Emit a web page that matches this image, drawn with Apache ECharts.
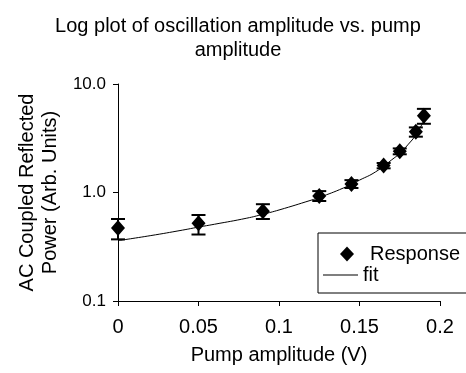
<!DOCTYPE html>
<html><head><meta charset="utf-8">
<script src="https://cdn.jsdelivr.net/npm/echarts@6/dist/echarts.min.js"></script>
<style>html,body{margin:0;padding:0;background:#fff}#c{width:466px;height:373px}</style>
</head><body><div id="c"></div>
<script>
var pumpX = [0, 0.05, 0.09, 0.125, 0.145, 0.165, 0.175, 0.185, 0.19];
var response = [0.47, 0.52, 0.67, 0.93, 1.2, 1.77, 2.4, 3.63, 5.1];
var errLow = [0.37, 0.41, 0.57, 0.835, 1.1, 1.67, 2.25, 3.27, 4.3];
var errHigh = [0.57, 0.62, 0.78, 1.03, 1.3, 1.87, 2.55, 3.98, 5.9];
var fitX = [0, 0.02, 0.04, 0.05, 0.06, 0.08, 0.09, 0.1, 0.12, 0.125, 0.14, 0.15, 0.16, 0.17, 0.175, 0.18, 0.185, 0.19];
var fitY = [0.36, 0.40, 0.45, 0.48, 0.51, 0.58, 0.63, 0.69, 0.85, 0.9, 1.1, 1.3, 1.55, 2.0, 2.3, 2.75, 3.4, 4.6];
var yTicks = ['0.1', '1.0', '10.0'];

var F = 'Liberation Sans, Arial, sans-serif';
var chart = echarts.init(document.getElementById('c'));
chart.setOption({
  animation: false,
  backgroundColor: '#fff',
  title: {
    text: 'Log plot of oscillation amplitude vs. pump\namplitude',
    left: 233, top: 9, textAlign: 'center',
    textStyle: {fontFamily: F, fontSize: 20, fontWeight: 'normal', color: '#000', lineHeight: 24}
  },
  grid: {left: 118, right: 26, top: 84, bottom: 72},
  legend: [
    {
      orient: 'vertical', left: 318, top: 233,
      padding: [11, 16, 29, 22],
      itemWidth: 14, itemHeight: 15,
      borderColor: '#000', borderWidth: 1, borderRadius: 0,
      itemStyle: {color: '#000', opacity: 1},
      textStyle: {fontFamily: F, fontSize: 20, color: '#000', padding: [0, 0, 0, 11]},
      data: [{name: 'Response', icon: 'diamond'}]
    },
    {
      orient: 'vertical', left: 323, top: 265,
      padding: 0,
      itemWidth: 35, itemHeight: 1,
      itemStyle: {color: '#000', opacity: 1},
      textStyle: {fontFamily: F, fontSize: 20, color: '#000'},
      data: [{name: 'fit', icon: 'rect'}]
    }
  ],
  xAxis: {
    type: 'value', min: 0, max: 0.2, interval: 0.05,
    name: 'Pump amplitude (V)', nameLocation: 'middle', nameGap: 44,
    nameTextStyle: {fontFamily: F, fontSize: 20, color: '#000'},
    axisLine: {lineStyle: {color: '#000', width: 1}},
    axisTick: {inside: false, length: 5, lineStyle: {color: '#000'}},
    axisLabel: {fontFamily: F, fontSize: 20, color: '#000', margin: 16,
      formatter: function(v){ return String(+v.toFixed(3)); }},
    splitLine: {show: false}
  },
  yAxis: {
    type: 'log', min: 0.1, max: 10, logBase: 10,
    name: 'AC Coupled Reflected\nPower (Arb. Units)', nameLocation: 'middle', nameGap: 53, nameRotate: 90,
    nameTextStyle: {fontFamily: F, fontSize: 20, color: '#000', lineHeight: 23},
    axisLine: {show: true, lineStyle: {color: '#000', width: 1}},
    axisTick: {inside: false, length: 5, lineStyle: {color: '#000'}},
    minorTick: {show: false},
    axisLabel: {fontFamily: F, fontSize: 17, color: '#000', margin: 12,
      formatter: function(v){ var i = Math.round(Math.log10(v)) + 1; return yTicks[i] || ''; }},
    splitLine: {show: false}
  },
  series: [
    {
      name: 'fit', type: 'line', smooth: true, symbol: 'none', showSymbol: false,
      lineStyle: {color: '#000', width: 1},
      itemStyle: {color: '#000'},
      data: fitX.map(function(x, i){ return [x, fitY[i]]; }),
      z: 2
    },
    {
      name: 'err', type: 'custom',
      data: pumpX.map(function(x, i){ return [x, errLow[i], errHigh[i]]; }),
      renderItem: function(params, api){
        var x = api.value(0);
        var lo = api.coord([x, api.value(1)]);
        var hi = api.coord([x, api.value(2)]);
        var w = 7;
        var st = {stroke: '#000', lineWidth: 2};
        return {type: 'group', children: [
          {type: 'line', shape: {x1: lo[0], y1: lo[1], x2: hi[0], y2: hi[1]}, style: st},
          {type: 'line', shape: {x1: lo[0]-w, y1: lo[1], x2: lo[0]+w, y2: lo[1]}, style: st},
          {type: 'line', shape: {x1: hi[0]-w, y1: hi[1], x2: hi[0]+w, y2: hi[1]}, style: st}
        ]};
      },
      z: 3
    },
    {
      name: 'Response', type: 'scatter', symbol: 'diamond', symbolSize: [14, 16],
      itemStyle: {color: '#000', opacity: 1},
      data: pumpX.map(function(x, i){ return [x, response[i]]; }),
      z: 4
    }
  ]
});
</script></body></html>
